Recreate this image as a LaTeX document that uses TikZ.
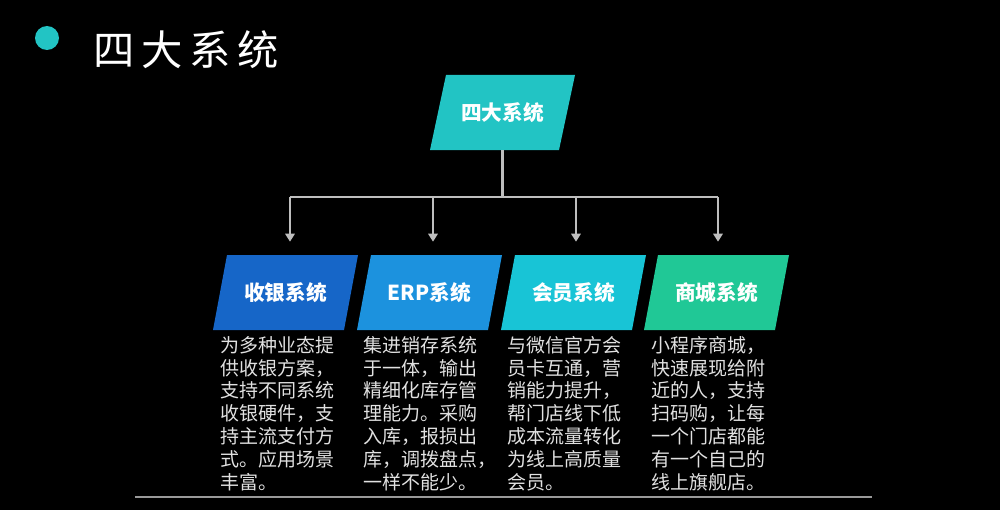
\documentclass[tikz,border=0pt]{standalone}
\usepackage{fontspec}
\setmainfont{Noto Sans CJK SC}
\newfontfamily\cjk{Noto Sans CJK SC}
\usetikzlibrary{arrows.meta,calc}
\definecolor{topc}{RGB}{34,196,196}
\definecolor{cA}{RGB}{22,102,200}
\definecolor{cB}{RGB}{28,146,222}
\definecolor{cC}{RGB}{24,196,214}
\definecolor{cD}{RGB}{32,200,150}
\definecolor{linec}{RGB}{190,190,190}
\definecolor{txtc}{RGB}{225,225,225}
\tikzset{
  para/.style 2 args={minimum width=145*0.75pt, minimum height=75*0.75pt, inner sep=0pt,
    text=white, font=\cjk\bfseries\fontsize{15.5pt}{18pt}\selectfont,
    path picture={\fill[#1] ([xshift=#2*0.75pt]path picture bounding box.north west) -- (path picture bounding box.north east) -- ([xshift=-#2*0.75pt]path picture bounding box.south east) -- (path picture bounding box.south west) -- cycle;}},
  desc/.style={anchor=north west, inner sep=0pt, align=left, text=txtc,
    font=\cjk\fontsize{14.25pt}{17.1pt}\selectfont},
  conn/.style={draw=linec, line width=2.2pt},
  arr/.style={conn, -{Triangle[width=7pt,length=6pt]}, shorten >=13*0.75pt},
}
\begin{document}
\begin{tikzpicture}[x=0.75pt,y=-0.75pt]
\useasboundingbox[fill=black] (0,0) rectangle (1000,510);
% title
\fill[topc] (47,38) circle (12);
\node[anchor=west, text=white, inner sep=0pt, font=\cjk\fontsize{31pt}{34pt}\selectfont] (title) at (93,50) {四\hspace{5pt}大\hspace{5pt}系\hspace{5pt}统};
% top box
\node[para={topc}{16}] (top) at (502.5,112.5) {四大系统};
% bottom boxes
\node[para={cA}{14}] (b1) at (285.5,292.5) {收银系统};
\node[para={cB}{14}] (b2) at (429.5,292.5) {ERP系统};
\node[para={cC}{14}] (b3) at (573.5,292.5) {会员系统};
\node[para={cD}{14}] (b4) at (716.5,292.5) {商城系统};
% connectors
\coordinate (j1) at (290,197);
\coordinate (j2) at (433,197);
\coordinate (j3) at (576,197);
\coordinate (j4) at (718,197);
\draw[conn] (top.south) -- (top.south |- j1);
\draw[conn] (j1) -- (j4);
\draw[arr] (j1) -- (j1 |- b1.north);
\draw[arr] (j2) -- (j2 |- b2.north);
\draw[arr] (j3) -- (j3 |- b3.north);
\draw[arr] (j4) -- (j4 |- b4.north);
% descriptions
\node[desc] (d1) at (220,336) {为多种业态提\\供收银方案，\\支持不同系统\\收银硬件，支\\持主流支付方\\式。应用场景\\丰富。};
\node[desc] (d2) at (363,336) {集进销存系统\\于一体，输出\\精细化库存管\\理能力。采购\\入库，报损出\\库，调拨盘点，\\一样不能少。};
\node[desc] (d3) at (507,336) {与微信官方会\\员卡互通，营\\销能力提升，\\帮门店线下低\\成本流量转化\\为线上高质量\\会员。};
\node[desc] (d4) at (651,336) {小程序商城，\\快速展现给附\\近的人，支持\\扫码购，让每\\一个门店都能\\有一个自己的\\线上旗舰店。};
% bottom rule
\coordinate (r1) at (135,497);
\coordinate (r2) at (872,497);
\draw[draw=gray!80, line width=1.5pt] (r1) -- (r2);
\end{tikzpicture}
\end{document}
